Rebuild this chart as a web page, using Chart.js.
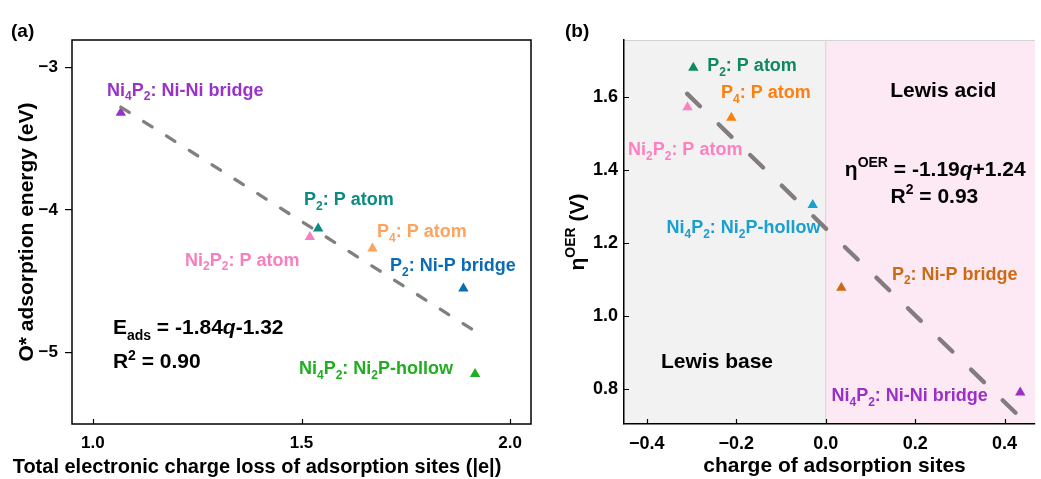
<!DOCTYPE html>
<html>
<head>
<meta charset="utf-8">
<script src="https://cdn.jsdelivr.net/npm/chart.js@4.4.1/dist/chart.umd.min.js"></script>
<style>
  html, body { margin: 0; padding: 0; background: #fff; }
  #wrap { position: relative; width: 1041px; height: 479px; }
  .panel { position: absolute; top: 0; height: 479px; }
  #pa { left: 0; width: 540px; }
  #pb { left: 540px; width: 501px; }
</style>
</head>
<body>
<div id="wrap">
  <div class="panel" id="pa"><canvas id="chartA"></canvas></div>
  <div class="panel" id="pb"><canvas id="chartB"></canvas></div>
</div>
<script>
// ---- panel (a) data ----
const sitesA = ['Ni_4P_2: Ni-Ni bridge', 'P_2: P atom', 'Ni_2P_2: P atom', 'P_4: P atom', 'P_2: Ni-P bridge', 'Ni_4P_2: Ni_2P-hollow'];
const chargeLossA = [1.067, 1.54, 1.52, 1.67, 1.888, 1.916];
const energyA = [-3.32, -4.13, -4.19, -4.27, -4.55, -5.15];
const fitXA = [1.067, 1.916];
const fitYA = [-3.28, -4.85];
const xTicksA = [1.0, 1.5, 2.0];
const yTicksA = [-5, -4, -3];

// ---- panel (b) data ----
const sitesB = ['P_2: P atom', 'P_4: P atom', 'Ni_2P_2: P atom', 'Ni_4P_2: Ni_2P-hollow', 'P_2: Ni-P bridge', 'Ni_4P_2: Ni-Ni bridge'];
const chargeB = [-0.296, -0.211, -0.309, -0.029, 0.035, 0.435];
const etaB = [1.68, 1.543, 1.572, 1.304, 1.077, 0.79];
const fitXB = [-0.31, 0.425];
const fitYB = [1.609, 0.734];
const xTicksB = [-0.4, -0.2, 0, 0.2, 0.4];
const yTicksB = [0.8, 1.0, 1.2, 1.4, 1.6];

// colours per site
const coloursA = ['#9a32c8', '#0b8a86', '#f77fbd', '#fda35e', '#0a6cb4', '#20ad20'];
const coloursB = ['#0f8a5c', '#ff7f0e', '#ff80c0', '#19a0cf', '#cc6a14', '#9b30c8'];

const FONT = '"Liberation Sans", Arial, sans-serif';

// tiny rich text: _x / _{..} subscript, ^{..} superscript, ~..~ italic
function parseRich(s) {
    const out = [];
    let buf = '', i = 0;
    const push = (t, m) => { if (t) out.push({ t, m }); };
    while (i < s.length) {
        const c = s[i];
        if (c === '_' || c === '^') {
            push(buf, 'n'); buf = '';
            const m = c === '_' ? 'sub' : 'sup';
            if (s[i + 1] === '{') {
                const j = s.indexOf('}', i);
                push(s.slice(i + 2, j), m);
                i = j + 1;
            } else {
                push(s[i + 1], m);
                i += 2;
            }
            continue;
        }
        if (c === '~') {
            push(buf, 'n'); buf = '';
            const j = s.indexOf('~', i + 1);
            push(s.slice(i + 1, j), 'it');
            i = j + 1;
            continue;
        }
        buf += c; i++;
    }
    push(buf, 'n');
    return out;
}

function drawRich(ctx, s, x, y, size, color, align) {
    const parts = parseRich(s);
    const fontOf = p => {
        const sz = (p.m === 'sub' || p.m === 'sup') ? Math.round(size * 0.66) : size;
        return (p.m === 'it' ? 'italic ' : '') + 'bold ' + sz + 'px ' + FONT;
    };
    let w = 0;
    parts.forEach(p => { ctx.font = fontOf(p); p.w = ctx.measureText(p.t).width; w += p.w; });
    let cx = align === 'center' ? x - w / 2 : x;
    ctx.fillStyle = color;
    ctx.textAlign = 'left';
    ctx.textBaseline = 'alphabetic';
    parts.forEach(p => {
        ctx.font = fontOf(p);
        let dy = 0;
        if (p.m === 'sub') dy = size * 0.26;
        if (p.m === 'sup') dy = -size * 0.42;
        ctx.fillText(p.t, cx, y + dy);
        cx += p.w;
    });
}

const minus = v => String(v).replace('-', '\u2212');

// inward tick marks drawn by hand
function innerTicks(ctx, scale, values, len, horizontal, area) {
    ctx.beginPath();
    values.forEach(v => {
        const p = Math.round(scale.getPixelForValue(v)) + 0.5;
        if (horizontal) { ctx.moveTo(p, area.bottom); ctx.lineTo(p, area.bottom - len); }
        else { ctx.moveTo(area.left, p); ctx.lineTo(area.left + len, p); }
    });
    ctx.stroke();
}

// label placement in data units
const labelPosA = [[1.034, -3.20], [1.506, -3.965], [1.221, -4.39], [1.681, -4.19], [1.712, -4.43], [1.494, -5.15]];
const labelPosB = [[-0.265, 1.671], [-0.234, 1.597], [-0.442, 1.441], [-0.356, 1.227], [0.148, 1.099], [0.013, 0.767]];

function tickAxis(ticks, fmt, pad, size, outward) {
    return {
        afterBuildTicks: scale => { scale.ticks = ticks.map(v => ({ value: v })); },
        ticks: {
            callback: v => fmt(v),
            color: '#000',
            font: { family: FONT, size: size, weight: 'bold' },
            padding: pad,
            autoSkip: false,
            maxRotation: 0
        },
        grid: { display: true, drawOnChartArea: false, drawTicks: outward, tickLength: 7, color: '#000', lineWidth: 1.2 },
    };
}

// ---------- chart (a) ----------
const xA = tickAxis(xTicksA, v => v.toFixed(1), 9, 17, false);
const yA = tickAxis(yTicksA, v => minus(v), 7, 17, true);

new Chart(document.getElementById('chartA'), {
    type: 'scatter',
    data: {
        datasets: [
            {
                data: fitXA.map((x, i) => ({ x, y: fitYA[i] })),
                type: 'line',
                borderColor: '#808080',
                borderWidth: 3.3,
                borderDash: [10, 17],
                borderCapStyle: 'round',
                pointRadius: 0,
                fill: false
            },
            {
                data: chargeLossA.map((x, i) => ({ x, y: energyA[i] })),
                pointStyle: 'triangle',
                pointRadius: 6,
                pointBorderWidth: 0,
                pointBackgroundColor: coloursA,
                pointBorderColor: coloursA
            }
        ]
    },
    options: {
        responsive: true,
        maintainAspectRatio: false,
        animation: false,
        layout: { padding: { left: 0, right: 9, top: 40, bottom: 0 } },
        plugins: { legend: { display: false }, tooltip: { enabled: false } },
        scales: {
            x: Object.assign(xA, {
                type: 'linear', min: 0.95, max: 2.05,
                border: { display: false },
                afterFit: s => { s.height = 55; }
            }),
            y: Object.assign(yA, {
                type: 'linear', min: -5.5, max: -2.81,
                border: { display: false },
                afterFit: s => { s.width = 72; }
            })
        }
    },
    plugins: [{
        id: 'decorA',
        afterDraw(chart) {
            const ctx = chart.ctx, a = chart.chartArea;
            const sx = chart.scales.x, sy = chart.scales.y;
            ctx.save();
            ctx.strokeStyle = '#000';
            ctx.lineWidth = 1.5;
            ctx.strokeRect(a.left, a.top, a.right - a.left, a.bottom - a.top);
            ctx.lineWidth = 1.2;
            innerTicks(ctx, sx, xTicksA, 5, true, a);
            sitesA.forEach((s, i) => {
                const p = labelPosA[i];
                drawRich(ctx, s, sx.getPixelForValue(p[0]), sy.getPixelForValue(p[1]), 18, coloursA[i], 'left');
            });
            drawRich(ctx, 'E_{ads} = -1.84~q~-1.32', sx.getPixelForValue(1.048), sy.getPixelForValue(-4.87), 21, '#000', 'left');
            drawRich(ctx, 'R^2 = 0.90', sx.getPixelForValue(1.048), sy.getPixelForValue(-5.11), 21, '#000', 'left');
            drawRich(ctx, '(a)', 11, 37, 19, '#000', 'left');
            drawRich(ctx, 'Total electronic charge loss of adsorption sites (|e|)', 257, 473, 20, '#000', 'center');
            ctx.translate(33, (a.top + a.bottom) / 2);
            ctx.rotate(-Math.PI / 2);
            drawRich(ctx, 'O* adsorption energy (eV)', 0, 0, 21, '#000', 'center');
            ctx.restore();
        }
    }]
});

// ---------- chart (b) ----------
const xB = tickAxis(xTicksB, v => minus(v.toFixed(1)), 9, 18, false);
const yB = tickAxis(yTicksB, v => v.toFixed(1), 6, 18, false);

new Chart(document.getElementById('chartB'), {
    type: 'scatter',
    data: {
        datasets: [
            {
                data: fitXB.map((x, i) => ({ x, y: fitYB[i] })),
                type: 'line',
                borderColor: '#847b80',
                borderWidth: 4.3,
                borderDash: [18, 26],
                borderCapStyle: 'round',
                pointRadius: 0,
                fill: false
            },
            {
                data: chargeB.map((x, i) => ({ x, y: etaB[i] })),
                pointStyle: 'triangle',
                pointRadius: 6,
                pointBorderWidth: 0,
                pointBackgroundColor: coloursB,
                pointBorderColor: coloursB
            }
        ]
    },
    options: {
        responsive: true,
        maintainAspectRatio: false,
        animation: false,
        layout: { padding: { left: 0, right: 1, top: 40, bottom: 0 } },
        plugins: { legend: { display: false }, tooltip: { enabled: false } },
        scales: {
            x: Object.assign(xB, {
                type: 'linear', min: -0.451, max: 0.468,
                border: { display: true, color: '#000', width: 1.5 },
                afterFit: s => { s.height = 55; }
            }),
            y: Object.assign(yB, {
                type: 'linear', min: 0.704, max: 1.756,
                border: { display: true, color: '#000', width: 1.5 },
                afterFit: s => { s.width = 84; }
            })
        }
    },
    plugins: [{
        id: 'regionsB',
        beforeDraw(chart) {
            const ctx = chart.ctx, a = chart.chartArea;
            const x0 = chart.scales.x.getPixelForValue(0);
            ctx.save();
            ctx.fillStyle = '#f2f2f2';
            ctx.fillRect(a.left, a.top, x0 - a.left, a.bottom - a.top);
            ctx.fillStyle = '#fde9f4';
            ctx.fillRect(x0, a.top, a.right - x0, a.bottom - a.top);
            ctx.strokeStyle = '#d4d4d4';
            ctx.lineWidth = 1;
            ctx.beginPath();
            ctx.moveTo(x0, a.top); ctx.lineTo(x0, a.bottom);
            ctx.moveTo(a.left, a.top + 0.5); ctx.lineTo(a.right, a.top + 0.5);
            ctx.stroke();
            ctx.restore();
        },
        afterDraw(chart) {
            const ctx = chart.ctx, a = chart.chartArea;
            const sx = chart.scales.x, sy = chart.scales.y;
            ctx.save();
            ctx.strokeStyle = '#000';
            ctx.lineWidth = 1.2;
            innerTicks(ctx, sx, xTicksB, 5, true, a);
            innerTicks(ctx, sy, yTicksB, 5, false, a);
            sitesB.forEach((s, i) => {
                const p = labelPosB[i];
                drawRich(ctx, s, sx.getPixelForValue(p[0]), sy.getPixelForValue(p[1]), 18, coloursB[i], 'left');
            });
            drawRich(ctx, 'Lewis acid', sx.getPixelForValue(0.263), sy.getPixelForValue(1.60), 21, '#000', 'center');
            drawRich(ctx, 'Lewis base', sx.getPixelForValue(-0.243), sy.getPixelForValue(0.858), 21, '#000', 'center');
            drawRich(ctx, '\u03b7^{OER} = -1.19~q~+1.24', sx.getPixelForValue(0.245), sy.getPixelForValue(1.384), 21, '#000', 'center');
            drawRich(ctx, 'R^2 = 0.93', sx.getPixelForValue(0.243), sy.getPixelForValue(1.31), 21, '#000', 'center');
            drawRich(ctx, '(b)', 25, 37, 19, '#000', 'left');
            drawRich(ctx, 'charge of adsorption sites', (a.left + a.right) / 2 + 5, 472, 21, '#000', 'center');
            ctx.translate(44, (a.top + a.bottom) / 2);
            ctx.rotate(-Math.PI / 2);
            drawRich(ctx, '\u03b7^{OER} (V)', 0, 0, 21, '#000', 'center');
            ctx.restore();
        }
    }]
});
</script>
</body>
</html>
